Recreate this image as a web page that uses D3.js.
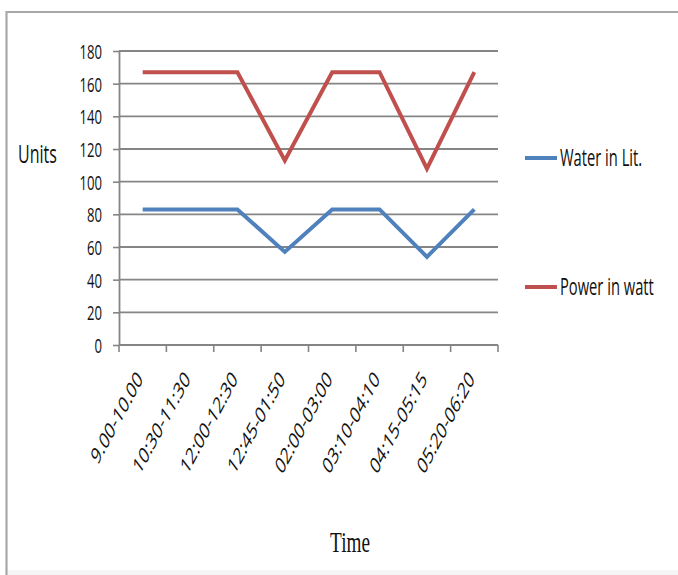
<!DOCTYPE html>
<html>
<head>
<meta charset="utf-8">
<script src="https://cdn.jsdelivr.net/npm/d3@7"></script>
<style>
  html, body { margin: 0; padding: 0; background: #fff; }
  svg { display: block; }
</style>
</head>
<body>
<svg id="chart" width="678" height="575"></svg>
<script>
// Time slots along the x axis
const timeSlots = ["9.00-10.00", "10:30-11:30", "12:00-12:30", "12:45-01:50",
                   "02:00-03:00", "03:10-04:10", "04:15-05:15", "05:20-06:20"];
// Consumption per slot
const waterLit = [83, 83, 83, 57, 83, 83, 54, 83];
const powerWatt = [167, 167, 167, 113, 167, 167, 108, 167];
// Value axis ticks
const yTicks = [0, 20, 40, 60, 80, 100, 120, 140, 160, 180];

const series = [
  { name: "Water in Lit.", values: waterLit, color: "#4F81BD" },
  { name: "Power in watt", values: powerWatt, color: "#C0504D" }
];

const svg = d3.select("#chart");
const SX = 0.64;               // horizontal text compression
const sansFont = "'Open Sans', 'DejaVu Sans', sans-serif";
const serifFont = "'Liberation Serif', 'DejaVu Serif', serif";

// Outer frame
svg.append("rect").attr("x", 7).attr("y", 570).attr("width", 671).attr("height", 5)
  .attr("fill", "#f6f6f6");
svg.append("path").attr("d", "M6.5,575 V12 H678")
  .attr("fill", "none").attr("stroke", "#a8a8a8").attr("stroke-width", 2.2);

const x = d3.scaleBand().domain(timeSlots).range([119, 498]).paddingInner(0).paddingOuter(0);
const y = d3.scaleLinear().domain([0, 180]).range([345, 51]);
const cx = d => x(d) + x.bandwidth() / 2;

// Horizontal gridlines
svg.append("g").selectAll("line").data(yTicks.filter(t => t > 0)).join("line")
  .attr("x1", 119).attr("x2", 498)
  .attr("y1", d => y(d)).attr("y2", d => y(d))
  .attr("stroke", "#858585").attr("stroke-width", 1.8);

// Value axis
const yAxis = svg.append("g").attr("transform", "translate(119,0)")
  .call(d3.axisLeft(y).tickValues(yTicks).tickSize(6).tickSizeOuter(0).tickFormat(d3.format("d")));
yAxis.select(".domain").attr("stroke", "#858585").attr("stroke-width", 1.8);
yAxis.selectAll(".tick line").attr("stroke", "#858585").attr("stroke-width", 1.6);
yAxis.selectAll(".tick text").remove();
yAxis.selectAll(".tick").append("text")
  .attr("transform", `translate(-17,0) scale(${SX},1)`)
  .attr("text-anchor", "end").attr("dy", "0.36em")
  .attr("font-family", sansFont).attr("font-size", 20.5).attr("fill", "#111")
  .text(d => d);

// Category axis with ticks between categories
const edges = timeSlots.map(d => x(d)).concat([x.range()[1]]);
const xAxis = svg.append("g");
xAxis.append("line").attr("x1", 119).attr("x2", 498).attr("y1", y(0)).attr("y2", y(0))
  .attr("stroke", "#858585").attr("stroke-width", 1.8);
xAxis.selectAll("line.tk").data(edges).join("line").attr("class", "tk")
  .attr("x1", d => d).attr("x2", d => d).attr("y1", y(0)).attr("y2", y(0) + 7)
  .attr("stroke", "#858585").attr("stroke-width", 1.6);
xAxis.selectAll("text").data(timeSlots).join("text")
  .attr("transform", d => `translate(${cx(d) + 1},${y(0) + 35}) scale(${SX},1) rotate(-50)`)
  .attr("text-anchor", "end")
  .attr("font-family", sansFont).attr("font-size", 23).attr("fill", "#111")
  .text(d => d);

// Series lines
const line = d3.line().x((v, i) => cx(timeSlots[i])).y(v => y(v));
svg.append("g").selectAll("path").data(series).join("path")
  .attr("d", s => line(s.values))
  .attr("fill", "none").attr("stroke", s => s.color)
  .attr("stroke-width", 4).attr("stroke-linejoin", "miter").attr("stroke-linecap", "butt");

// Legend
const legendY = [158, 287];
const legend = svg.append("g").selectAll("g").data(series).join("g")
  .attr("transform", (s, i) => `translate(525,${legendY[i]})`);
legend.append("line").attr("x1", 0).attr("x2", 32).attr("y1", 0).attr("y2", 0)
  .attr("stroke", s => s.color).attr("stroke-width", 4);
legend.append("text")
  .attr("transform", `translate(35,0) scale(${SX},1)`)
  .attr("dy", "0.36em")
  .attr("font-family", sansFont).attr("font-size", 23).attr("fill", "#111")
  .text(s => s.name);

// Axis titles
svg.append("text").attr("transform", `translate(18,163) scale(${SX},1)`)
  .attr("font-family", sansFont).attr("font-size", 25).attr("fill", "#111")
  .text("Units");
svg.append("text").attr("transform", `translate(350,552) scale(${SX},1)`)
  .attr("text-anchor", "middle")
  .attr("font-family", serifFont).attr("font-size", 30).attr("fill", "#111")
  .text("Time");
</script>
</body>
</html>
